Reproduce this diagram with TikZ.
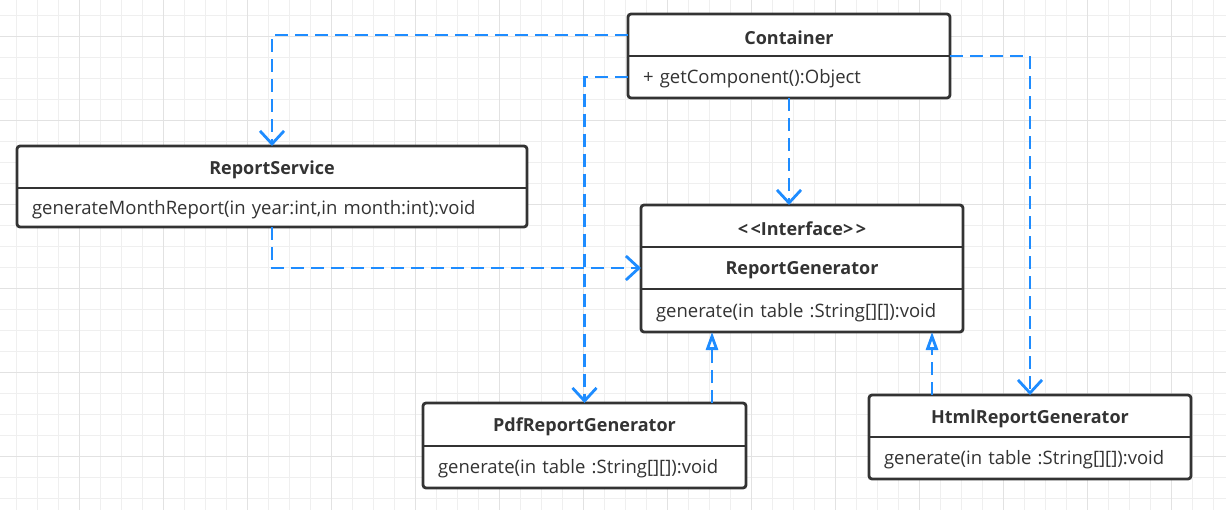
\documentclass[tikz,border=0pt]{standalone}
\usepackage{fontspec}
\setmainfont{Open Sans}
\usetikzlibrary{arrows.meta}
\definecolor{gridminor}{HTML}{EFEFEF}
\definecolor{gridmajor}{HTML}{E2E2E2}
\definecolor{edgecol}{HTML}{333333}
\definecolor{linkcol}{HTML}{1E8CFF}
\tikzset{
  umlbox/.style={draw=edgecol, line width=2.8pt, rounded corners=3pt, fill=white,
    inner sep=0pt, outer sep=0pt, anchor=north west},
  divider/.style={draw=edgecol, line width=2.8pt},
  titlerow/.style={font=\fontsize{18}{21}\selectfont\bfseries, text=edgecol,
    inner sep=0pt, outer sep=0pt, anchor=north west},
  titletext/.style={font=\fontsize{18}{21}\selectfont\bfseries, text=edgecol,
    inner sep=0pt, yshift=-2.5pt},
  memberrow/.style={font=\fontsize{18.5}{21}\selectfont, text=edgecol, align=left,
    inner xsep=15pt, inner ysep=0pt, outer sep=0pt, anchor=north west},
  dep/.style={draw=linkcol, line width=2.8pt, dash pattern=on 13pt off 7pt,
    -{Straight Barb[length=13pt,width=24pt,line width=2.8pt]}},
  real/.style={draw=linkcol, line width=2.8pt, dash pattern=on 13pt off 7pt,
    -{Triangle[open,length=18pt,width=12pt,line width=2.8pt]}},
}
\begin{document}
\begin{tikzpicture}[x=1pt,y=-1pt]
\useasboundingbox (0,0) rectangle (1226,509);
\fill[white] (0,0) rectangle (1226,509);
% grid
\foreach \i in {0,...,59} {
  \draw[gridminor, line width=1pt] (-4.7+21*\i,-10) -- (-4.7+21*\i,520);
}
\foreach \j in {0,...,25} {
  \draw[gridminor, line width=1pt] (-10,-5.7+21*\j) -- (1240,-5.7+21*\j);
}
\foreach \i in {0,...,15} {
  \draw[gridmajor, line width=1pt] (-4.7+84*\i,-10) -- (-4.7+84*\i,520);
}
\foreach \j in {0,...,6} {
  \draw[gridmajor, line width=1pt] (-10,36.3+84*\j-84) -- (1240,36.3+84*\j-84);
}

% Container
\node[umlbox, minimum width=322pt, minimum height=84pt] (cont) at (628,14) {};
\node[titlerow, minimum width=322pt, minimum height=42pt] (contA) at (628,14) {};
\node[titletext] (contT) at (contA.center) {Container};
\node[memberrow, text width=292pt, minimum height=42pt, yshift=-2pt] (contB) at (628,56) {+ getComponent():Object};
\draw[divider] (contA.south west) -- (contA.south east);

% ReportService
\node[umlbox, minimum width=510pt, minimum height=81pt] (rs) at (17,146) {};
\node[titlerow, minimum width=510pt, minimum height=42pt] (rsA) at (17,146) {};
\node[titletext] (rsT) at (rsA.center) {ReportService};
\node[memberrow, text width=480pt, minimum height=39pt, yshift=-2pt] (rsB) at (17,188) {generateMonthReport(in year:int,in month:int):void};
\draw[divider] (rsA.south west) -- (rsA.south east);

% Interface
\node[umlbox, minimum width=322pt, minimum height=127pt] (intf) at (641,205) {};
\node[titlerow, minimum width=322pt, minimum height=42pt] (intfA) at (641,205) {};
\node[titletext] (intfS) at (intfA.center) {<\kern2.5pt<Interface>\kern2.5pt>};
\node[titlerow, minimum width=322pt, minimum height=42pt] (intfB) at (641,247) {};
\node[titletext] (intfT) at (intfB.center) {ReportGenerator};
\node[memberrow, text width=292pt, minimum height=43pt, yshift=-2pt] (intfC) at (641,289) {generate(in table :String[][]):void};
\draw[divider] (intfA.south west) -- (intfA.south east);
\draw[divider] (intfB.south west) -- (intfB.south east);

% PdfReportGenerator
\node[umlbox, minimum width=323pt, minimum height=85pt] (pdf) at (423,403) {};
\node[titlerow, minimum width=323pt, minimum height=43pt] (pdfA) at (423,403) {};
\node[titletext] (pdfT) at (pdfA.center) {PdfReportGenerator};
\node[memberrow, text width=293pt, minimum height=42pt, yshift=-2pt] (pdfB) at (423,446) {generate(in table :String[][]):void};
\draw[divider] (pdfA.south west) -- (pdfA.south east);

% HtmlReportGenerator
\node[umlbox, minimum width=322pt, minimum height=84pt] (html) at (869,395) {};
\node[titlerow, minimum width=322pt, minimum height=42pt] (htmlA) at (869,395) {};
\node[titletext] (htmlT) at (htmlA.center) {HtmlReportGenerator};
\node[memberrow, text width=292pt, minimum height=42pt, yshift=-2pt] (htmlB) at (869,437) {generate(in table :String[][]):void};
\draw[divider] (htmlA.south west) -- (htmlA.south east);

% connectors
\draw[dep] (contA.west) -| (rs.north);
\draw[dep] ([yshift=2pt]contB.west) -| (pdf.north);
\draw[dep] (cont.south) -- (cont.south |- intf.north);
\draw[dep] (contA.south east) -| (html.north);
\draw[dep] (rs.south) |- (intfB.west);
\coordinate (rp) at ([xshift=-90pt]intf.south);
\coordinate (rh) at ([xshift=130pt]intf.south);
\draw[real] (rp |- pdf.north) -- (rp);
\draw[real] (rh |- html.north) -- (rh);
\end{tikzpicture}
\end{document}
